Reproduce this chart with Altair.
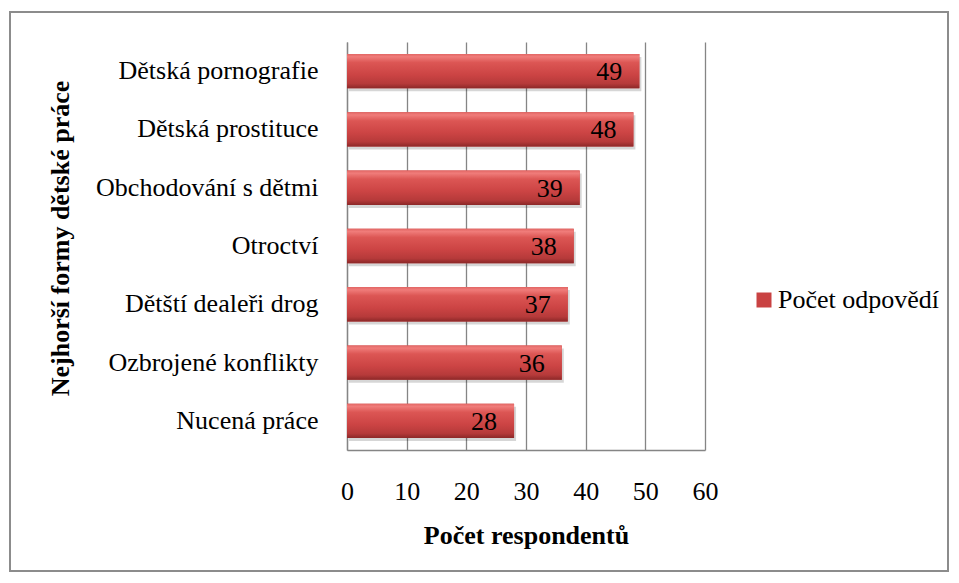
import altair as alt
import pandas as pd

categories = [
    "Dětská pornografie",
    "Dětská prostituce",
    "Obchodování s dětmi",
    "Otroctví ",
    "Dětští dealeři drog",
    "Ozbrojené konflikty",
    "Nucená práce",
]
values = [49, 48, 39, 38, 37, 36, 28]
series_name = "Počet odpovědí"
x_ticks = [0, 10, 20, 30, 40, 50, 60]

df = pd.DataFrame({"kategorie": categories, "pocet": values, "serie": series_name})

FONT = "Times New Roman, Liberation Serif, serif"
GRID = "#858585"

y_enc = alt.Y(
    "kategorie:N",
    sort=categories,
    scale=alt.Scale(paddingInner=0.41, paddingOuter=0.205),
    axis=alt.Axis(
        title="Nejhorší formy dětské práce",
        titleFont=FONT,
        titleFontSize=26,
        titleFontWeight="bold",
        titleColor="black",
        titleX=-274,
        titleY=196,
        titleAngle=270,
        titleBaseline="bottom",
        labelFont=FONT,
        labelFontSize=26,
        labelColor="black",
        labelPadding=29,
        labelLimit=400,
        ticks=False,
        domainColor=GRID,
        domainWidth=1.3,
        grid=False,
    ),
)
x_enc = alt.X(
    "pocet:Q",
    scale=alt.Scale(domain=[0, 60], nice=False),
    axis=alt.Axis(
        values=x_ticks,
        title="Počet respondentů",
        titleFont=FONT,
        titleFontSize=26,
        titleFontWeight="bold",
        titleColor="black",
        titleY=72,
        titleBaseline="top",
        labelFont=FONT,
        labelFontSize=26,
        labelColor="black",
        labelPadding=28,
        labelFlush=False,
        labelOverlap=False,
        ticks=False,
        domainColor=GRID,
        domainWidth=1.3,
        grid=True,
        gridColor=GRID,
        gridWidth=1.3,
    ),
)

base = alt.Chart(df)

border = alt.Chart(alt.Data(values=[{"a": 1}])).mark_rect(
    fillOpacity=0, stroke="#8c8c8c", strokeWidth=2
).encode(
    x=alt.value(-337), x2=alt.value(601), y=alt.value(-30), y2=alt.value(529)
)

shadow = base.mark_bar(color="#000000", opacity=0.16, xOffset=2, yOffset=3).encode(
    y=y_enc, x=x_enc
)

legend_bars = base.mark_bar().encode(
    y=y_enc,
    x=x_enc,
    color=alt.Color(
        "serie:N",
        scale=alt.Scale(range=["#c94242"]),
        legend=alt.Legend(
            title=None,
            orient="none",
            legendX=404,
            legendY=245,
            padding=0,
            symbolType="square",
            symbolSize=225,
            symbolStrokeWidth=0,
            labelFont=FONT,
            labelFontSize=26,
            labelColor="black",
            labelOffset=1,
            labelLimit=300,
        ),
    ),
)

grad = alt.LinearGradient(
    gradient="linear",
    x1=0, y1=0, x2=0, y2=1,
    stops=[
        alt.GradientStop(offset=0.0, color="#e26664"),
        alt.GradientStop(offset=0.08, color="#f07c7a"),
        alt.GradientStop(offset=0.25, color="#dc5654"),
        alt.GradientStop(offset=0.6, color="#cc4444"),
        alt.GradientStop(offset=0.86, color="#b63a3a"),
        alt.GradientStop(offset=1.0, color="#8c2828"),
    ],
)
bars = base.mark_bar(color=grad).encode(y=y_enc, x=x_enc)

labels = base.mark_text(
    align="right", baseline="middle", dx=-17, dy=1, font=FONT, fontSize=26, color="black"
).encode(y=y_enc, x=x_enc, text="pocet:Q")

chart = alt.layer(border, shadow, legend_bars, bars, labels).properties(
    width=358,
    height=408,
    padding={"left": 339, "top": 34, "right": 246, "bottom": 123},
    autosize=alt.AutoSizeParams(type="none"),
    background="white",
).configure_view(stroke=None)

chart.save("out.html", embed_options={"renderer": "svg", "actions": False})
